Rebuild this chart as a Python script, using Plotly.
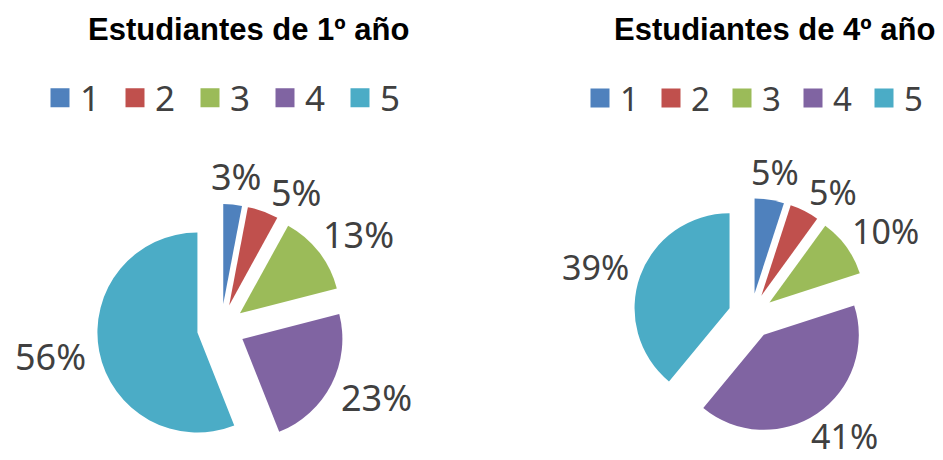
import math
import plotly.graph_objects as go

categories = ["1", "2", "3", "4", "5"]
values_1 = [3, 5, 13, 23, 56]
values_4 = [5, 5, 10, 41, 39]
titles = ["Estudiantes de 1º año", "Estudiantes de 4º año"]
colors = ["#4F81BD", "#C0504D", "#9BBB59", "#8064A2", "#4BACC6"]

# The page body has an 8px margin, so the figure is drawn from (8, 8).
OFF = 8
W, H = 943 - OFF, 460 - OFF
PULL = 0.24
GREY = "#404040"


def px(x):
    return (x - OFF) / W


def py(y):
    return 1 - (y - OFF) / H


pies = [
    dict(values=values_1, cx=221, cy=328, r=100, fs=36),
    dict(values=values_4, cx=751, cy=316, r=95, fs=34),
]


def label_pos(p, theta_deg, w, h):
    t = math.radians(theta_deg)
    s, c = math.sin(t), math.cos(t)
    r0 = p["r"] * (1 + PULL) + 14
    return (p["cx"] + s * (r0 + w / 2), p["cy"] - c * (r0 + h / 2))


def overlaps(a, b, pad=8):
    (xa, ya, wa, ha), (xb, yb, wb, hb) = a, b
    return (abs(xa - xb) < (wa + wb) / 2 + pad
            and abs(ya - yb) < (ha + hb) / 2)


fig = go.Figure()
annotations = []
for p in pies:
    half = p["r"] * (1 + PULL)
    fig.add_trace(go.Pie(
        labels=categories, values=p["values"], sort=False,
        direction="clockwise", rotation=0, pull=[PULL] * len(p["values"]),
        marker=dict(colors=colors, line=dict(width=0)),
        textinfo="none", showlegend=False, automargin=False,
        domain=dict(x=[px(p["cx"] - half), px(p["cx"] + half)],
                    y=[py(p["cy"] + half), py(p["cy"] - half)]),
        hoverinfo="label+percent"))
    # percentage labels outside each slice; a label that would collide
    # with the previous one is rotated further clockwise
    font = dict(family="Noto Sans", size=p["fs"], color=GREY)
    total = sum(p["values"])
    cum = 0
    prev = None
    for v in p["values"]:
        theta = (cum + v / 2) / total * 360
        cum += v
        txt = "%d%%" % round(v / total * 100)
        w = p["fs"] * (0.57 * (len(txt) - 1) + 0.86)
        h = p["fs"] * 0.8
        x, y = label_pos(p, theta, w, h)
        while prev is not None and overlaps((x, y, w, h), prev):
            theta += 0.5
            x, y = label_pos(p, theta, w, h)
        prev = (x, y, w, h)
        annotations.append(dict(
            text=txt, x=px(x), y=py(y), xref="paper", yref="paper",
            xanchor="center", yanchor="middle", showarrow=False, font=font))

for leg in ["legend", "legend2"]:
    for cat, col in zip(categories, colors):
        fig.add_trace(go.Scatter(
            x=[None], y=[None], mode="markers", name=cat, legend=leg,
            marker=dict(symbol="square", size=18, color=col,
                        line=dict(width=3, color=col)),
            showlegend=True))

legend_common = dict(orientation="h", itemsizing="trace",
                     bgcolor="rgba(0,0,0,0)", yanchor="middle",
                     xanchor="left", traceorder="normal")

for t, cxp in zip(titles, [248, 774]):
    annotations.append(dict(
        text="<b>%s</b>" % t, x=px(cxp), y=py(29), xref="paper",
        yref="paper", xanchor="center", yanchor="middle", showarrow=False,
        font=dict(family="Liberation Sans", size=31, color="black")))

fig.update_layout(
    width=W, height=H,
    margin=dict(l=0, r=0, t=0, b=0, autoexpand=False),
    paper_bgcolor="white", plot_bgcolor="white",
    xaxis=dict(visible=False), yaxis=dict(visible=False),
    legend=dict(x=px(40), y=py(98), entrywidth=30,
                font=dict(family="Noto Sans", size=35, color=GREY),
                **legend_common),
    legend2=dict(x=px(580), y=py(98), entrywidth=26,
                 font=dict(family="Noto Sans", size=33, color=GREY),
                 **legend_common),
    annotations=annotations,
)

fig.write_html("out.html")
